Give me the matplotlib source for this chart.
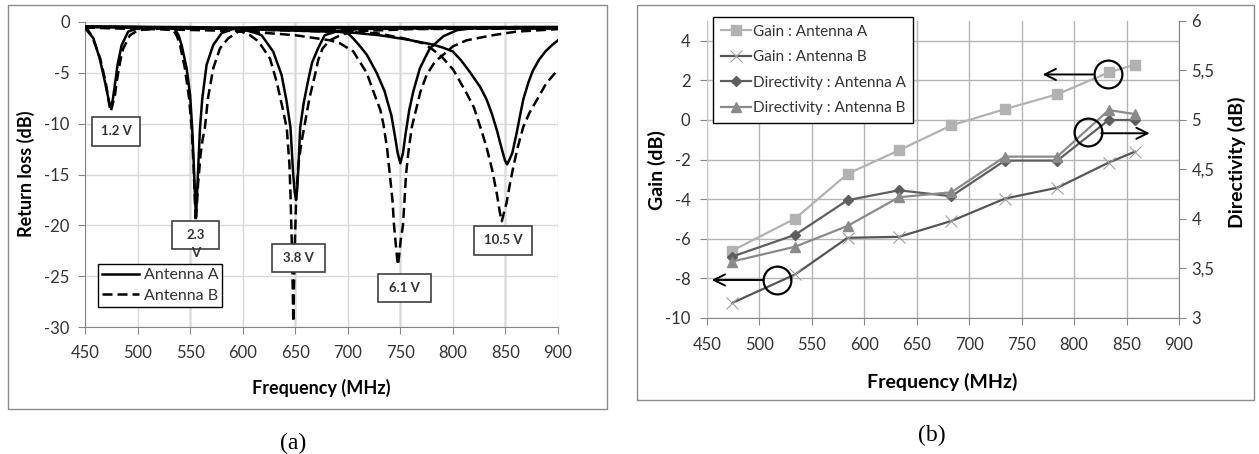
import matplotlib
matplotlib.use('Agg')
import matplotlib.pyplot as plt
from matplotlib.patches import Rectangle

plt.rcParams['font.family'] = ['Lato', 'DejaVu Sans']
plt.rcParams['axes.unicode_minus'] = False

W, H = 1259, 454

# ---------------- (a) return loss, MHz / dB ----------------
f12a = [450, 458, 464, 469, 472.8, 473.8, 474.7, 475.6, 476.5, 478, 481, 484.8, 491, 500.7, 550, 650, 750, 900]
r12a = [-0.6, -1.6, -3.6, -5.9, -7.8, -8.1, -8.2, -8.0, -7.6, -6.5, -4.2, -2.3, -0.95, -0.6, -0.55, -0.55, -0.55, -0.6]
f12b = [450, 453, 457, 461, 464.5, 467.4, 469.8, 471.6, 473.2, 474.4, 475.8, 477, 478.5, 480, 481.7, 484, 486.4, 492.8, 500.7, 520, 600, 700, 800, 900]
r12b = [-0.6, -0.8, -1.5, -2.6, -3.6, -4.9, -6.0, -7.2, -8.2, -8.8, -8.3, -7.8, -7.2, -6.0, -4.9, -3.6, -2.6, -1.3, -0.8, -0.65, -0.6, -0.6, -0.6, -0.65]

f23a = [450, 500, 525, 535.6, 539, 542, 546.7, 550, 552, 553.5, 554.8, 555.6, 556.4, 557.6, 558.5, 559.4, 561.6, 565.7, 572, 580, 592.7, 620, 700, 800, 900]
r23a = [-0.45, -0.5, -0.55, -0.7, -1.3, -2.3, -4.55, -7.2, -10.5, -14.0, -17.5, -19.2, -17.5, -14.5, -12.5, -10.45, -7.5, -4.2, -2.26, -1.1, -0.6, -0.5, -0.5, -0.5, -0.5]
f23b = [450, 500, 520, 534, 537.5, 540.5, 545, 549, 551.5, 553.2, 554.5, 555.3, 556.3, 557.5, 560, 562, 564, 567, 572, 578.4, 586.3, 595.8, 605, 640, 700, 800, 900]
r23b = [-0.55, -0.6, -0.65, -0.8, -1.4, -2.3, -4.55, -7.5, -10.5, -14.0, -17.5, -19.6, -18.2, -16.0, -13.0, -11.5, -10.45, -7.5, -4.55, -2.6, -1.6, -0.95, -0.8, -0.7, -0.65, -0.65, -0.65]

f38a = [450, 550, 590, 602, 610, 618, 629, 637, 641.8, 645.5, 648, 649.6, 650.8, 652, 653, 654.7, 658, 662, 666, 671.7, 678, 690, 710, 800, 900]
r38a = [-0.45, -0.5, -0.6, -0.8, -1.0, -1.3, -2.9, -5.2, -7.8, -10.4, -14.9, -16.8, -17.5, -16.3, -14.3, -10.4, -8.0, -5.9, -4.0, -2.6, -1.3, -0.9, -0.7, -0.55, -0.55]
f38b = [450, 550, 590, 599, 607, 615, 626, 632.4, 638.7, 642, 644.5, 645.5, 646.8, 647.6, 648.2, 648.8, 649.6, 651, 653, 656, 659, 663.5, 668.8, 672, 676, 683, 695, 710, 760, 900]
r38b = [-0.55, -0.65, -0.8, -0.95, -1.3, -1.9, -3.6, -5.9, -8.8, -10.5, -14.0, -17.0, -22.0, -26.0, -29.5, -26.0, -22.0, -17.0, -14.0, -11.8, -10.1, -7.5, -5.2, -3.7, -2.6, -1.8, -1.2, -0.9, -0.7, -0.6]

f61a = [450, 600, 650, 674, 693, 700, 705, 711, 718, 727.5, 735, 741.5, 745, 747.5, 750, 752.5, 755, 758.5, 762.3, 768.6, 778, 791, 804, 820, 860, 900]
r61a = [-0.45, -0.6, -0.7, -0.8, -0.9, -1.1, -1.6, -2.3, -3.2, -5.0, -6.8, -9.2, -11.3, -12.9, -13.9, -12.9, -11.0, -8.65, -6.85, -4.55, -2.6, -1.4, -0.8, -0.6, -0.5, -0.5]
f61b = [450, 600, 650, 683, 692.6, 705.3, 718, 726, 731, 734, 737.5, 740, 742.5, 744, 745.8, 747, 747.8, 748.8, 750.3, 752.5, 754, 755.4, 758, 761, 765, 769, 775, 783, 790, 800, 813, 838, 860, 900]
r61b = [-0.55, -0.9, -1.3, -1.8, -2.1, -2.9, -5.0, -7.3, -8.65, -10.1, -12.5, -15.0, -17.5, -20.0, -22.0, -23.3, -23.9, -23.0, -21.5, -20.0, -17.5, -15.0, -12.5, -10.3, -8.6, -6.9, -5.2, -3.9, -3.3, -2.4, -1.8, -1.3, -0.95, -0.7]

f105a = [450, 600, 650, 700, 730, 755, 780, 790, 800, 808, 816, 826, 832, 837, 842, 846, 849.5, 851.5, 853.5, 856.5, 860.5, 863.5, 867, 872, 876, 882, 888, 894, 900]
r105a = [-0.5, -0.7, -0.85, -1.0, -1.3, -1.7, -2.2, -2.5, -2.9, -3.8, -4.9, -6.4, -7.6, -9.0, -10.7, -12.3, -13.6, -14.0, -13.6, -12.9, -11.0, -9.4, -7.6, -5.9, -4.8, -3.7, -2.9, -2.3, -1.8]
f105b = [450, 600, 650, 700, 727.5, 752.8, 772, 781.3, 789.3, 800.4, 813, 820, 826, 832, 837.5, 842, 844.8, 846.5, 848, 851, 854.5, 858, 862, 867, 873, 879.7, 889, 900]
r105b = [-0.55, -0.75, -0.85, -1.0, -1.1, -1.6, -2.1, -2.75, -3.4, -4.7, -7.0, -8.4, -10.3, -12.3, -14.6, -17.0, -18.8, -19.6, -19.0, -17.8, -15.8, -14.0, -12.2, -10.3, -8.9, -7.7, -6.0, -4.7]

curves_a = [(f12a, r12a), (f23a, r23a), (f38a, r38a), (f61a, r61a), (f105a, r105a)]
curves_b = [(f12b, r12b), (f23b, r23b), (f38b, r38b), (f61b, r61b), (f105b, r105b)]

volt_labels = ['1.2 V', '2.3', '3.8 V', '6.1 V', '10.5 V']
volt_f = [479.5, 555.1, 653.1, 754.0, 847.7]
volt_db = [-10.77, -20.94, -23.2, -26.16, -21.49]
volt_w = [45.7, 44.7, 50.4, 50.4, 55.2]

freq_ticks = list(range(450, 901, 50))
rl_ticks = [0, -5, -10, -15, -20, -25, -30]

# ---------------- (b) gain / directivity ----------------
freq_b = [474, 534, 584, 633, 683, 734, 784, 833, 858]
gain_a = [-6.6, -4.98, -2.72, -1.53, -0.27, 0.55, 1.3, 2.4, 2.8]
gain_b = [-9.24, -7.8, -5.95, -5.9, -5.1, -3.97, -3.42, -2.15, -1.6]
dir_a = [3.62, 3.84, 4.19, 4.29, 4.23, 4.59, 4.59, 5.0, 5.0]
dir_b = [3.57, 3.72, 3.93, 4.22, 4.27, 4.63, 4.63, 5.1, 5.06]
gain_ticks = [-10, -8, -6, -4, -2, 0, 2, 4]
dir_ticks = [3, 3.5, 4, 4.5, 5, 5.5, 6]
dir_tick_labels = ['3', '3,5', '4', '4,5', '5', '5,5', '6']

GREY = '#868686'
TXT = '#333333'


def px_rect(x0, y0, x1, y1):
    return [x0 / W, 1 - y1 / H, (x1 - x0) / W, (y1 - y0) / H]


def fxy(px, py):
    return px / W, 1 - py / H


fig = plt.figure(figsize=(W / 100, H / 100), dpi=100)

# outer frames of the two charts
for x0, y0, x1, y1 in [(8, 5, 607, 409), (637, 5, 1254, 400)]:
    fig.add_artist(Rectangle(fxy(x0, y1), (x1 - x0) / W, (y1 - y0) / H,
                             transform=fig.transFigure, fill=False,
                             edgecolor='#8c8c8c', lw=1.0))

# ================= panel (a) =================
ax = fig.add_axes(px_rect(85, 22, 558, 327))
ax.set_xlim(450, 900)
ax.set_ylim(-30, 0)
ax.set_xticks(freq_ticks)
ax.set_yticks(rl_ticks)
ax.grid(True, color='#d9d9d9', lw=1.0)
for xv in [550, 650, 750, 850]:
    ax.axvline(xv, color='#9a9a9a', lw=1.0, zorder=0.5)
ax.set_axisbelow(True)
for s in ['top', 'right']:
    ax.spines[s].set_visible(False)
for s in ['left', 'bottom']:
    ax.spines[s].set_color(GREY)
ax.tick_params(direction='out', length=5, color=GREY, labelsize=12, labelcolor=TXT)
ax.tick_params(axis='x', pad=8)
ax.tick_params(axis='y', pad=6)

for i, (f, r) in enumerate(curves_a):
    ax.plot(f, r, color='black', lw=1.8, label='Antenna A' if i == 0 else None, zorder=3)
for i, (f, r) in enumerate(curves_b):
    ax.plot(f, r, color='black', lw=1.8, ls=(0, (4, 2)), label='Antenna B' if i == 0 else None, zorder=3)

for lab, fc, dc, wc in zip(volt_labels, volt_f, volt_db, volt_w):
    ax.add_patch(Rectangle((fc - wc / 2, dc - 1.4), wc, 2.8, facecolor='white',
                           edgecolor='#404040', lw=1.2, zorder=5))
    ax.text(fc, dc, lab, ha='center', va='center', fontsize=9.5,
            fontweight='bold', color=TXT, zorder=6)
ax.text(volt_f[1], volt_db[1] - 1.75, 'V', ha='center', va='center', fontsize=9.5,
        fontweight='bold', color=TXT, zorder=6)

leg = ax.legend(loc='lower left', bbox_to_anchor=(0.0275, 0.066), borderaxespad=0,
                fontsize=11.5, frameon=True, fancybox=False, framealpha=1,
                handlelength=2.3, handletextpad=0.3, borderpad=0.25, labelspacing=0.4)
leg.get_frame().set_edgecolor('black')
leg.get_frame().set_linewidth(1.0)
for t in leg.get_texts():
    t.set_color(TXT)

fig.text(*fxy(321, 388), 'Frequency (MHz)', ha='center', va='center',
         fontsize=13, fontweight='bold')
fig.text(*fxy(26, 174), 'Return loss (dB)', ha='center', va='center',
         rotation=90, fontsize=13, fontweight='bold')
fig.text(*fxy(293, 443), '(a)', ha='center', va='center', fontsize=17,
         family='Liberation Serif')

# ================= panel (b) =================
bx = fig.add_axes(px_rect(707, 21, 1179, 318))
bx.set_xlim(450, 900)
bx.set_ylim(-10, 5)
bx.set_xticks(freq_ticks)
bx.set_yticks(gain_ticks)
bx.grid(True, color='#b4b4b4', lw=1.0)
bx.set_axisbelow(True)
for s in ['top', 'right']:
    bx.spines[s].set_visible(False)
bx.spines['left'].set_color('#c8c8c8')
bx.spines['bottom'].set_color(GREY)
bx.tick_params(direction='out', length=5, color=GREY, labelsize=12, labelcolor=TXT)
bx.tick_params(axis='x', pad=9)
bx.tick_params(axis='y', pad=7)

dx = bx.twinx()
dx.set_ylim(3, 6)
dx.set_yticks(dir_ticks)
dx.set_yticklabels(dir_tick_labels)
for s in ['top', 'left', 'bottom']:
    dx.spines[s].set_visible(False)
dx.spines['right'].set_color(GREY)
dx.tick_params(direction='out', length=5, color=GREY, labelsize=12, labelcolor=TXT, pad=4)

h1, = bx.plot(freq_b, gain_a, color='#b2b2b2', lw=1.6, marker='s', ms=7,
              mfc='#b2b2b2', mec='#b2b2b2', label='Gain : Antenna A', zorder=3)
h2, = bx.plot(freq_b, gain_b, color='#555555', lw=1.6, marker='x', ms=8,
              mec='#a0a0a0', mew=0.8, label='Gain : Antenna B', zorder=3)
h3, = dx.plot(freq_b, dir_a, color='#5e5e5e', lw=1.6, marker='D', ms=5,
              mfc='#5e5e5e', mec='#5e5e5e', label='Directivity : Antenna A', zorder=3)
h4, = dx.plot(freq_b, dir_b, color='#8a8a8a', lw=1.6, marker='^', ms=7,
              mfc='#8a8a8a', mec='#8a8a8a', label='Directivity : Antenna B', zorder=3)

# circles and arrows pointing at the axis each pair belongs to
circ_f = [832, 813, 517]
circ_g = [2.3, -0.63, -8.08]
arrow_from = [(818, 2.3), (826, -0.67), (503.5, -8.08)]
arrow_to = [(770, 2.3), (872, -0.67), (454.5, -8.08)]
dx.plot(circ_f, circ_g, 'o', ms=20, mfc='none', mec='black', mew=1.6,
        transform=bx.transData, zorder=6)
for a0, a1 in zip(arrow_from, arrow_to):
    dx.annotate('', xy=a1, xytext=a0, xycoords=bx.transData, textcoords=bx.transData,
                arrowprops=dict(arrowstyle='->,head_length=0.8,head_width=0.4',
                                color='black', lw=1.4, shrinkA=0, shrinkB=0), zorder=6)

leg2 = dx.legend(handles=[h1, h2, h3, h4], loc='upper left', bbox_to_anchor=(0.0127, 1.013),
                 borderaxespad=0, fontsize=11, frameon=True, fancybox=False, framealpha=1,
                 handlelength=2.0, handletextpad=0.1, borderpad=0.5, labelspacing=0.75,
                 numpoints=1)
leg2.get_frame().set_edgecolor('black')
leg2.get_frame().set_linewidth(1.0)
for t in leg2.get_texts():
    t.set_color(TXT)

fig.text(*fxy(942, 382), 'Frequency (MHz)', ha='center', va='center',
         fontsize=14, fontweight='bold')
fig.text(*fxy(657, 170), 'Gain (dB)', ha='center', va='center',
         rotation=90, fontsize=14, fontweight='bold')
fig.text(*fxy(1237, 162), 'Directivity (dB)', ha='center', va='center',
         rotation=90, fontsize=14, fontweight='bold')
fig.text(*fxy(932, 435), '(b)', ha='center', va='center', fontsize=17,
         family='Liberation Serif')

fig.savefig('out.png', dpi=100)
